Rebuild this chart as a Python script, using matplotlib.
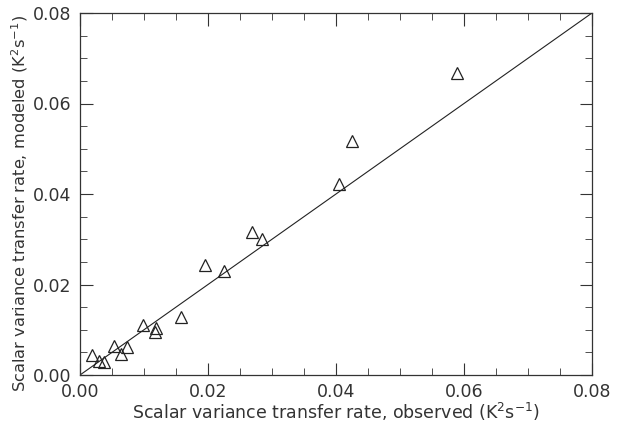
import numpy as np
import matplotlib.pyplot as plt
from matplotlib.ticker import MultipleLocator

# observed vs modeled scalar variance transfer rate (K^2 s^-1)
observed = [0.0589, 0.0425, 0.0405, 0.0269, 0.0284, 0.0196, 0.0225, 0.0158,
            0.0099, 0.0119, 0.0117, 0.0053, 0.0073, 0.0064, 0.0019, 0.0029, 0.0037]
modeled = [0.0667, 0.0518, 0.0422, 0.0317, 0.0301, 0.0243, 0.0230, 0.0129,
           0.0111, 0.0104, 0.0095, 0.0064, 0.0061, 0.0047, 0.0044, 0.0031, 0.0029]
one_to_one = [0.0, 0.08]
ticks = [0.00, 0.02, 0.04, 0.06, 0.08]

fig = plt.figure(figsize=(6.18, 4.26), dpi=100)
ax = fig.add_axes([80 / 618, 51 / 426, 512 / 618, 362 / 426])

ax.plot(one_to_one, one_to_one, color='#222222', linewidth=0.8)
ax.plot(observed, modeled, linestyle='none', marker='^', markersize=8.5,
        markerfacecolor='none', markeredgecolor='#222222', markeredgewidth=0.9)

ax.set_xlim(0, 0.08)
ax.set_ylim(0, 0.08)
ax.set_xticks(ticks)
ax.set_yticks(ticks)
ax.set_xticklabels([f'{t:.2f}' for t in ticks])
ax.set_yticklabels([f'{t:.2f}' for t in ticks])
ax.xaxis.set_minor_locator(MultipleLocator(0.005))
ax.yaxis.set_minor_locator(MultipleLocator(0.005))
ax.tick_params(which='both', direction='in', top=True, right=True,
               labelsize=12.5, labelcolor='#333333', color='#333333')
ax.tick_params(which='major', length=9, pad=6)
ax.tick_params(which='minor', length=5)
for s in ax.spines.values():
    s.set_color('#333333')
    s.set_linewidth(0.9)

ax.set_xlabel('Scalar variance transfer rate, observed (K$^2$s$^{-1}$)',
              fontsize=12.5, color='#333333', labelpad=0)
ax.set_ylabel('Scalar variance transfer rate, modeled (K$^2$s$^{-1}$)',
              fontsize=11.7, color='#333333')
ax.yaxis.set_label_coords(-0.098, 0.475)

fig.savefig('out.png', dpi=100)
